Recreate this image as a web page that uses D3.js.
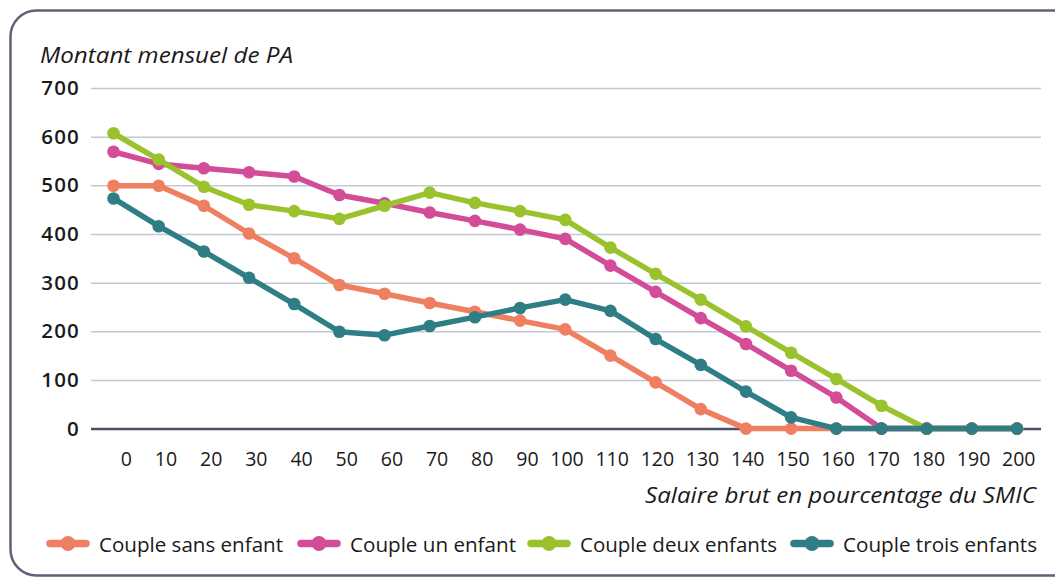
<!DOCTYPE html>
<html>
<head>
<meta charset="utf-8">
<script src="https://cdn.jsdelivr.net/npm/d3@7"></script>
<style>
  html, body { margin: 0; padding: 0; background: #fff; }
  svg { display: block; }
  text { font-family: "Open Sans", "Noto Sans", sans-serif; fill: #1a1a1a; }
</style>
</head>
<body>
<svg id="chart" width="1055" height="578"></svg>
<script>
const categories = [0,10,20,30,40,50,60,70,80,90,100,110,120,130,140,150,160,170,180,190,200];
const yTicks = [0,100,200,300,400,500,600,700];
const seriesNames = ["Couple sans enfant","Couple un enfant","Couple deux enfants","Couple trois enfants"];
const sansEnfant = [499,499,458,401,350,295,277,258,240,222,204,150,95,40,0,0,0,0,0,0,0];
const unEnfant   = [569,544,535,527,518,480,463,444,427,409,390,335,281,227,174,119,64,0,0,0,0];
const deuxEnfants= [607,553,497,460,447,431,458,485,464,447,429,372,318,265,210,156,102,47,0,0,0];
const troisEnfants=[473,416,364,310,256,199,192,211,229,248,265,242,184,131,76,23,0,0,0,0,0];
const colors = ["#EF7F61","#D24C97","#99C22D","#2F7E85"];
const yTitle = "Montant mensuel de PA";
const xTitle = "Salaire brut en pourcentage du SMIC";

const seriesValues = [sansEnfant, unEnfant, deuxEnfants, troisEnfants];
const svg = d3.select("#chart");

// frame
svg.append("rect").attr("x", 10.5).attr("y", 10.5).attr("width", 1080).attr("height", 565)
  .attr("rx", 26).attr("ry", 26).attr("fill", "none").attr("stroke", "#5b6374").attr("stroke-width", 2.5);

const x = d3.scalePoint().domain(categories).range([113.5, 1017]);
const y = d3.scaleLinear().domain([0, 700]).range([428.6, 88]);
const gridX0 = 91, gridX1 = 1041;

// grid
const yAxis = d3.axisLeft(y).tickValues(yTicks).tickSize(-(gridX1 - gridX0)).tickPadding(11).tickFormat(d3.format("d"));
const gy = svg.append("g").attr("transform", `translate(${gridX0},0)`).call(yAxis);
gy.select(".domain").remove();
gy.selectAll(".tick line").attr("stroke", d => d === 0 ? "#4b5262" : "#c3c8d3")
  .attr("stroke-width", d => d === 0 ? 2.5 : 1.5);
gy.selectAll(".tick text").attr("font-size", 20.5).attr("font-weight", 600).attr("fill", "#111")
  .attr("letter-spacing", 1.2)
  .attr("font-family", "'Open Sans', sans-serif");

// x axis labels
const xAxis = d3.axisBottom(x).tickSize(0).tickPadding(0).tickFormat(d => d);
const gx = svg.append("g").attr("transform", `translate(0,${y(0)})`).call(xAxis);
gx.select(".domain").remove();
gx.selectAll(".tick text").attr("font-size", 19.5).attr("fill", "#111")
  .attr("text-anchor", "end").attr("dx", 18).attr("dy", 0).attr("y", 37)
  .attr("font-family", "'Open Sans', sans-serif");

// titles
svg.append("text").attr("x", 40).attr("y", 62.5).attr("font-size", 22).attr("font-style", "italic")
  .attr("fill", "#1a1a1a").attr("textLength", 253).attr("lengthAdjust", "spacingAndGlyphs").text(yTitle);
svg.append("text").attr("x", 645).attr("y", 502.5).attr("font-size", 22)
  .attr("font-style", "italic").attr("fill", "#1a1a1a")
  .attr("textLength", 391).attr("lengthAdjust", "spacingAndGlyphs").text(xTitle);

// lines
const line = d3.line().x((d, i) => x(categories[i])).y(d => y(d));
seriesValues.forEach((vals, s) => {
  const g = svg.append("g");
  g.append("path").datum(vals).attr("d", line).attr("fill", "none")
    .attr("stroke", colors[s]).attr("stroke-width", 5.5).attr("stroke-linejoin", "round");
  g.selectAll("circle").data(vals).join("circle")
    .attr("cx", (d, i) => x(categories[i])).attr("cy", d => y(d)).attr("r", 6.3).attr("fill", colors[s]);
});

// legend
const legendX = [47, 298, 528, 791];
const legendTextW = [184, 166, 197, 194];
const lg = svg.append("g");
seriesNames.forEach((name, i) => {
  const gx0 = legendX[i];
  lg.append("line").attr("x1", gx0 + 3).attr("x2", gx0 + 39).attr("y1", 543.5).attr("y2", 543.5)
    .attr("stroke", colors[i]).attr("stroke-width", 7.5).attr("stroke-linecap", "round");
  lg.append("circle").attr("cx", gx0 + 21).attr("cy", 543.5).attr("r", 7.5).attr("fill", colors[i]);
  lg.append("text").attr("x", gx0 + 52).attr("y", 551.5).attr("font-size", 20.5).attr("fill", "#1a1a1a")
    .attr("textLength", legendTextW[i]).attr("lengthAdjust", "spacingAndGlyphs").text(name);
});
</script>
</body>
</html>
